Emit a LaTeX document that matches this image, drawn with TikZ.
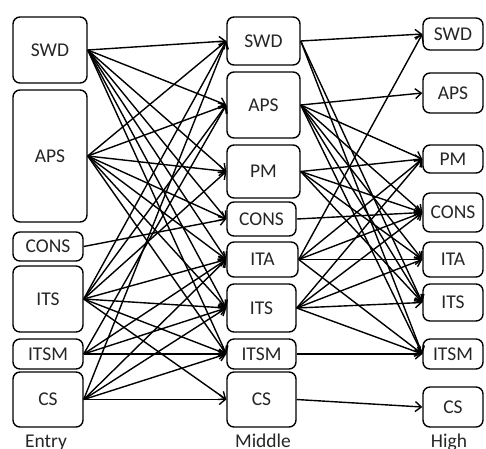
\documentclass[tikz,border=0pt]{standalone}
\usepackage{fontspec}
\setmainfont{Carlito}
\usetikzlibrary{arrows.meta}
\begin{document}
\begin{tikzpicture}[x=1pt,y=-1pt,
  box/.style={draw=black, line width=1.4pt, rounded corners=7pt, fill=white, inner sep=0pt, text=black!85, font=\fontsize{19.5}{20}\selectfont},
  edge/.style={-{Straight Barb[length=6pt,width=10pt]}, line width=1.4pt},
  lbl/.style={anchor=base, text=black!85, font=\fontsize{19.5}{20}\selectfont}]
\useasboundingbox (0,0) rectangle (486,448);
% Entry
\node[box, minimum width=74pt, minimum height=66pt] (eSWD) at (50,50) {SWD};
\node[box, minimum width=74pt, minimum height=132pt] (eAPS) at (50,156) {APS};
\node[box, minimum width=70pt, minimum height=29pt] (eCONS) at (48,246.5) {CONS};
\node[box, minimum width=70pt, minimum height=66pt] (eITS) at (48,299) {ITS};
\node[box, minimum width=70pt, minimum height=30pt] (eITSM) at (48,354) {ITSM};
\node[box, minimum width=70pt, minimum height=55pt] (eCS) at (48,399.5) {CS};
% Middle
\node[box, minimum width=73pt, minimum height=48pt] (mSWD) at (263.5,41) {SWD};
\node[box, minimum width=73pt, minimum height=66pt] (mAPS) at (263.5,105) {APS};
\node[box, minimum width=73pt, minimum height=53pt] (mPM) at (263.5,171.5) {PM};
\node[box, minimum width=69pt, minimum height=34pt] (mCONS) at (261.5,219) {CONS};
\node[box, minimum width=71pt, minimum height=35pt] (mITA) at (262.5,259.5) {ITA};
\node[box, minimum width=69pt, minimum height=48pt] (mITS) at (261.5,308) {ITS};
\node[box, minimum width=69pt, minimum height=30pt] (mITSM) at (261.5,354) {ITSM};
\node[box, minimum width=69pt, minimum height=55pt] (mCS) at (261.5,399.5) {CS};
% High
\node[box, minimum width=60pt, minimum height=32pt] (hSWD) at (453,34) {SWD};
\node[box, minimum width=60pt, minimum height=40pt] (hAPS) at (453,93) {APS};
\node[box, minimum width=60pt, minimum height=28pt] (hPM) at (453,159) {PM};
\node[box, minimum width=60pt, minimum height=39pt] (hCONS) at (453,212.5) {CONS};
\node[box, minimum width=60pt, minimum height=35pt] (hITA) at (453,259.5) {ITA};
\node[box, minimum width=60pt, minimum height=37pt] (hITS) at (453,302.5) {ITS};
\node[box, minimum width=60pt, minimum height=30pt] (hITSM) at (453,354) {ITSM};
\node[box, minimum width=60pt, minimum height=40pt] (hCS) at (453,407) {CS};
% labels
\node[lbl] (lE) at (46,447) {Entry};
\node[lbl] (lM) at (263,447) {Middle};
\node[lbl] (lH) at (449,447) {High};
% Entry -> Middle
\foreach \t in {SWD,APS,PM,CONS,ITA,ITS,ITSM} \draw[edge] (eSWD.east) -- (m\t.west);
\foreach \t in {SWD,APS,PM,CONS,ITA,ITS,ITSM} \draw[edge] (eAPS.east) -- (m\t.west);
\draw[edge] (eCONS.east) -- (mCONS.west);
\foreach \t in {SWD,APS,PM,ITA,ITS,ITSM,CS} \draw[edge] (eITS.east) -- (m\t.west);
\foreach \t in {APS,ITA,ITS,ITSM} \draw[edge] (eITSM.east) -- (m\t.west);
\foreach \t in {SWD,ITA,ITS,ITSM,CS} \draw[edge] (eCS.east) -- (m\t.west);
% Middle -> High
\foreach \t in {SWD,ITS,ITSM} \draw[edge] (mSWD.east) -- (h\t.west);
\foreach \t in {APS,PM,CONS,ITA,ITS,ITSM} \draw[edge] (mAPS.east) -- (h\t.west);
\foreach \t in {PM,CONS,ITA,ITS} \draw[edge] (mPM.east) -- (h\t.west);
\draw[edge] (mCONS.east) -- (hCONS.west);
\foreach \t in {SWD,PM,CONS,ITA,ITSM} \draw[edge] (mITA.east) -- (h\t.west);
\foreach \t in {PM,CONS,ITA,ITS,ITSM} \draw[edge] (mITS.east) -- (h\t.west);
\draw[edge] (mITSM.east) -- (hITSM.west);
\draw[edge] (mCS.east) -- (hCS.west);
\end{tikzpicture}
\end{document}
